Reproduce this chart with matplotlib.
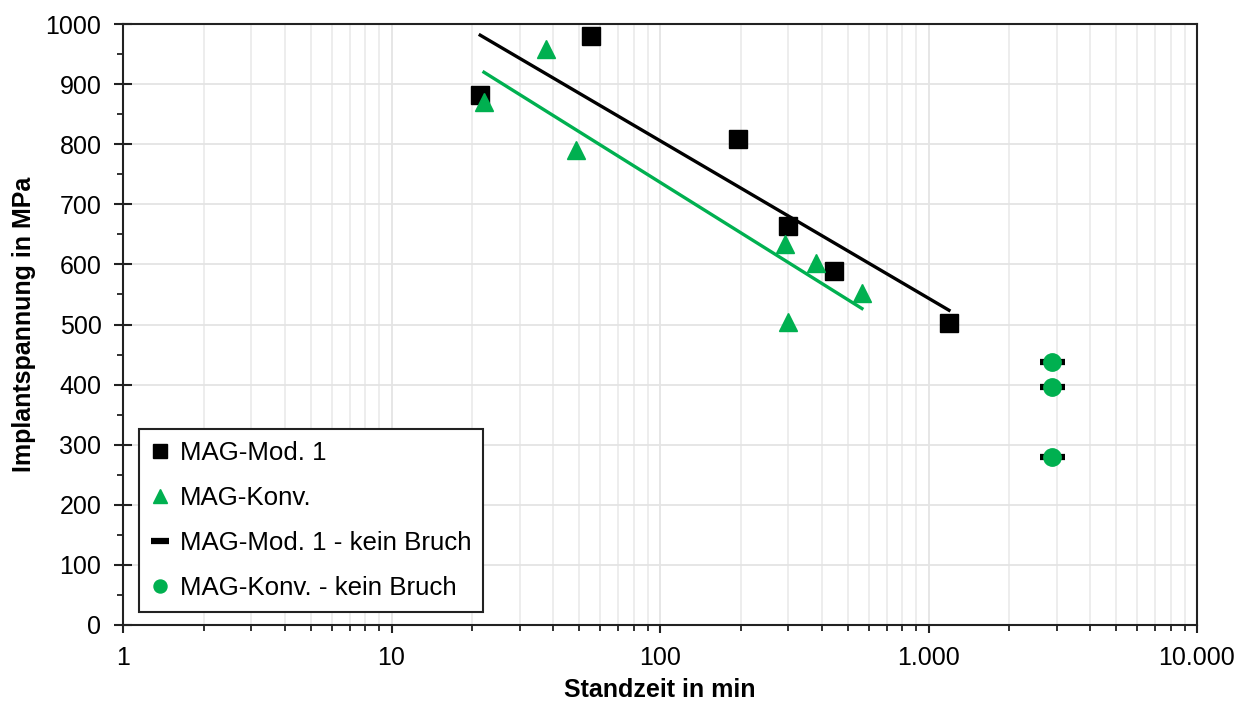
import numpy as np
import matplotlib
matplotlib.use("Agg")
import matplotlib.pyplot as plt
from matplotlib.ticker import FixedLocator, FixedFormatter, NullFormatter

plt.rcParams['font.family'] = ['Liberation Sans', 'DejaVu Sans']

# Data
mod1_x = [21.4, 55.3, 195, 300, 445, 1192]
mod1_y = [882, 980, 808, 664, 589, 502]
konv_x = [22.1, 37.6, 48.7, 292, 300, 381, 565]
konv_y = [870, 958, 790, 634, 504, 602, 552]
nobreak_x = [2880, 2880, 2880]
nobreak_y = [437, 396, 280]
xtick_vals = [1, 10, 100, 1000, 10000]
xtick_labels = ["1", "10", "100", "1.000", "10.000"]
ytick_vals = list(range(0, 1001, 100))

GREEN = "#00B050"
FS = 18

fig = plt.figure(figsize=(12.39, 7.03), dpi=100)
ax = fig.add_axes([123/1239, 1-625/703, (1197-123)/1239, (625-24)/703])

ax.set_xscale('log')
ax.set_xlim(1, 10000)
ax.set_ylim(0, 1000)

# grid
minor_x = [m * 10**d for d in range(0, 4) for m in range(2, 10)]
ax.xaxis.set_major_locator(FixedLocator(xtick_vals))
ax.xaxis.set_major_formatter(FixedFormatter(xtick_labels))
ax.xaxis.set_minor_locator(FixedLocator(minor_x))
ax.xaxis.set_minor_formatter(NullFormatter())
ax.yaxis.set_major_locator(FixedLocator(ytick_vals))
ax.yaxis.set_minor_locator(FixedLocator(list(range(50, 1000, 100))))
ax.grid(True, which='major', color='#e4e4e4', linewidth=1.3, zorder=0)
ax.grid(True, which='minor', axis='x', color='#ececec', linewidth=1.3, zorder=0)
ax.set_axisbelow(True)

# trend lines (log fit)
def logfit(x, y):
    x = np.asarray(x, float); y = np.asarray(y, float)
    b, a = np.polyfit(np.log(x), y, 1)
    xs = np.array([x.min(), x.max()])
    return xs, a + b * np.log(xs)

tx, ty = logfit(mod1_x, mod1_y)
ax.plot(tx, ty, color='black', lw=2.4, zorder=3)
tx, ty = logfit(konv_x, konv_y)
ax.plot(tx, ty, color=GREEN, lw=2.4, zorder=3)

ax.plot(mod1_x, mod1_y, ls='none', marker='s', ms=13, color='black', zorder=4,
        label='MAG-Mod. 1')
ax.plot(konv_x, konv_y, ls='none', marker='^', ms=12.5, color=GREEN, zorder=5,
        label='MAG-Konv.')
ax.plot(nobreak_x, nobreak_y, ls='none', marker='_', ms=18, mew=4.5, color='black',
        zorder=4, label='MAG-Mod. 1 - kein Bruch')
ax.plot(nobreak_x, nobreak_y, ls='none', marker='o', ms=12.5, color=GREEN, zorder=5,
        label='MAG-Konv. - kein Bruch')

for s in ax.spines.values():
    s.set_linewidth(1.5)
    s.set_color('#222222')

ax.tick_params(axis='both', which='major', labelsize=FS, color='#222222', width=1.5)
ax.tick_params(axis='x', which='major', direction='out', length=6, pad=9)
ax.tick_params(axis='x', which='minor', direction='out', length=4, width=1.3,
               color='#222222')
ax.tick_params(axis='y', which='major', direction='inout', length=13, pad=9)
ax.tick_params(axis='y', which='minor', direction='out', length=4, width=1.3,
               color='#222222')

ax.set_xlabel('Standzeit in min', fontsize=FS, fontweight='bold', labelpad=6)
ax.set_ylabel('Implantspannung in MPa', fontsize=FS, fontweight='bold', labelpad=7)

leg = ax.legend(loc='lower left', bbox_to_anchor=(0.0149, 0.0216), borderaxespad=0,
                fontsize=18.6, frameon=True, fancybox=False, edgecolor='#222222',
                handlelength=0.7, handletextpad=0.45, labelspacing=0.82,
                borderpad=0.45, markerscale=0.75)
leg.get_frame().set_linewidth(1.5)
leg.get_frame().set_alpha(1)

fig.savefig('out.png', dpi=100)
